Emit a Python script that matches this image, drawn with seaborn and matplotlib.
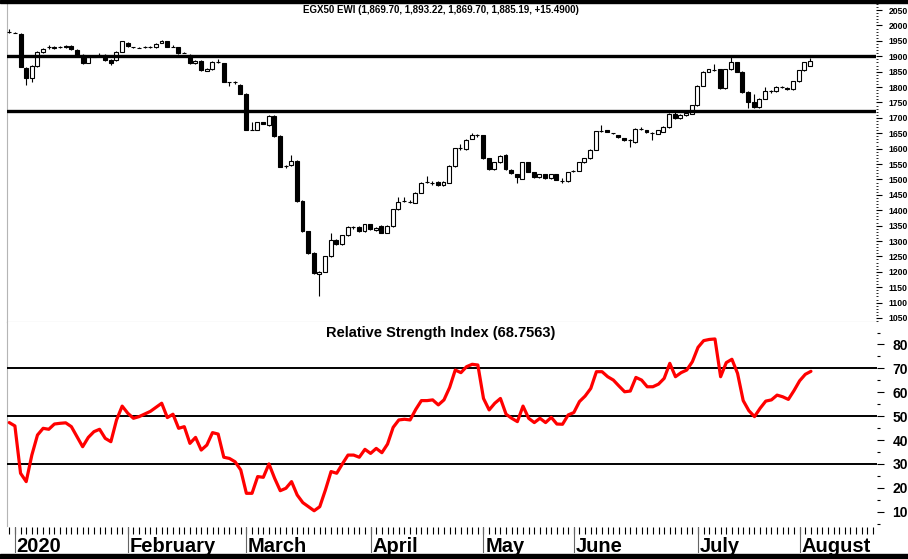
import matplotlib
matplotlib.use("Agg")
import matplotlib.pyplot as plt
import numpy as np
import pandas as pd
import seaborn as sns

# daily candles, index 0 = last session of 2019
opens = [1979, 1977, 1973, 1863, 1828, 1869, 1914, 1929, 1926, 1931,
         1932, 1933, 1920, 1904, 1879, 1899, 1904, 1904, 1888, 1888,
         1915, 1944, 1929, 1928, 1929, 1931, 1929, 1944, 1948, 1931,
         1929, 1911, 1904, 1877, 1886, 1853, 1858, 1882, 1877, 1815,
         1815, 1808, 1779, 1662, 1662, 1686, 1677, 1706, 1641, 1544,
         1547, 1561, 1430, 1332, 1261, 1194, 1201, 1250, 1303, 1289,
         1319, 1346, 1346, 1332, 1354, 1336, 1349, 1327, 1349, 1403,
         1430, 1427, 1425, 1457, 1492, 1490, 1492, 1481, 1490, 1544,
         1601, 1598, 1632, 1643, 1643, 1569, 1534, 1556, 1579, 1531,
         1517, 1503, 1556, 1523, 1507, 1517, 1504, 1517, 1495, 1495,
         1527, 1528, 1556, 1569, 1597, 1656, 1660, 1650, 1643, 1634,
         1627, 1621, 1664, 1660, 1651, 1649, 1655, 1670, 1713, 1699,
         1709, 1714, 1741, 1804, 1850, 1855, 1858, 1797, 1858, 1880,
         1850, 1784, 1752, 1735, 1762, 1786, 1786, 1801, 1798, 1793,
         1819, 1855, 1869.70]
highs = [1990, 1980, 1975, 1866, 1872, 1918, 1928, 1935, 1933, 1934,
         1935, 1936, 1922, 1906, 1901, 1903, 1910, 1906, 1890, 1917,
         1950, 1946, 1931, 1930, 1932, 1933, 1942, 1953, 1950, 1936,
         1931, 1914, 1906, 1888, 1888, 1862, 1884, 1890, 1879, 1818,
         1820, 1810, 1781, 1688, 1688, 1688, 1708, 1708, 1643, 1548,
         1580, 1563, 1432, 1334, 1263, 1203, 1252, 1327, 1305, 1321,
         1348, 1350, 1348, 1356, 1356, 1345, 1351, 1351, 1405, 1444,
         1444, 1432, 1459, 1492, 1510, 1495, 1494, 1494, 1546, 1603,
         1615, 1631, 1651, 1648, 1645, 1571, 1558, 1579, 1581, 1533,
         1519, 1558, 1558, 1525, 1519, 1519, 1519, 1519, 1505, 1525,
         1531, 1558, 1571, 1599, 1658, 1677, 1662, 1652, 1645, 1636,
         1630, 1666, 1669, 1662, 1653, 1662, 1672, 1715, 1722, 1711,
         1718, 1743, 1806, 1852, 1860, 1874, 1860, 1860, 1904, 1882,
         1852, 1786, 1776, 1764, 1800, 1790, 1803, 1805, 1800, 1821,
         1857, 1882, 1893.22]
lows = [1977, 1974, 1864, 1806, 1818, 1866, 1912, 1925, 1924, 1928,
        1927, 1920, 1902, 1876, 1877, 1897, 1902, 1886, 1871, 1885,
        1913, 1931, 1927, 1926, 1926, 1927, 1927, 1942, 1929, 1929,
        1907, 1909, 1875, 1875, 1853, 1851, 1856, 1878, 1815, 1805,
        1810, 1777, 1660, 1660, 1660, 1679, 1675, 1639, 1540, 1538,
        1545, 1428, 1330, 1259, 1194, 1120, 1199, 1248, 1287, 1287,
        1317, 1338, 1330, 1330, 1336, 1334, 1325, 1325, 1347, 1401,
        1428, 1422, 1423, 1455, 1490, 1482, 1479, 1479, 1488, 1542,
        1595, 1596, 1630, 1638, 1567, 1532, 1532, 1554, 1532, 1518,
        1490, 1501, 1523, 1505, 1505, 1502, 1502, 1497, 1490, 1493,
        1523, 1526, 1554, 1567, 1595, 1654, 1653, 1648, 1635, 1625,
        1605, 1619, 1659, 1651, 1627, 1647, 1653, 1668, 1697, 1697,
        1707, 1712, 1739, 1802, 1848, 1853, 1795, 1795, 1856, 1848,
        1782, 1732, 1733, 1733, 1760, 1782, 1784, 1797, 1791, 1791,
        1817, 1853, 1869.70]
closes = [1978, 1976, 1866, 1828, 1869, 1915, 1924, 1929, 1931, 1931,
          1929, 1922, 1904, 1879, 1899, 1901, 1904, 1888, 1879, 1915,
          1948, 1933, 1929, 1928, 1929, 1929, 1940, 1951, 1931, 1931,
          1909, 1911, 1877, 1886, 1855, 1860, 1882, 1882, 1817, 1815,
          1815, 1779, 1662, 1662, 1686, 1681, 1706, 1641, 1542, 1544,
          1560, 1430, 1332, 1261, 1196, 1201, 1250, 1303, 1289, 1319,
          1346, 1346, 1332, 1354, 1338, 1343, 1327, 1349, 1403, 1427,
          1430, 1427, 1457, 1490, 1492, 1490, 1481, 1492, 1544, 1601,
          1601, 1629, 1643, 1643, 1569, 1534, 1556, 1577, 1534, 1520,
          1507, 1556, 1525, 1507, 1517, 1504, 1517, 1499, 1495, 1523,
          1527, 1556, 1569, 1597, 1656, 1656, 1655, 1650, 1637, 1627,
          1627, 1664, 1664, 1653, 1651, 1660, 1670, 1713, 1699, 1709,
          1716, 1741, 1804, 1850, 1858, 1855, 1797, 1858, 1880, 1850,
          1784, 1752, 1735, 1762, 1786, 1786, 1801, 1801, 1793, 1819,
          1855, 1880, 1885.19]
rsi = [47.3, 45.9, 26.1, 22.6, 33.7, 42.1, 44.9, 44.5, 46.7, 47.0,
       47.2, 45.6, 41.4, 37.2, 41.1, 43.5, 44.5, 40.7, 39.3, 48.4,
       54.2, 51.2, 49.1, 49.8, 50.9, 52.0, 53.7, 55.4, 49.4, 50.8,
       44.9, 45.6, 38.6, 41.1, 35.8, 37.9, 43.1, 42.5, 32.8, 32.3,
       30.9, 27.5, 17.7, 17.7, 24.7, 24.4, 30.0, 24.0, 18.8, 19.8,
       22.6, 17.0, 13.8, 12.1, 10.4, 12.1, 19.1, 26.8, 26.1, 30.0,
       33.7, 33.7, 32.8, 36.1, 34.4, 36.5, 34.7, 38.3, 45.3, 48.4,
       48.7, 48.4, 52.8, 56.5, 56.5, 56.8, 54.7, 56.8, 62.0, 69.3,
       68.2, 70.7, 71.7, 71.4, 57.4, 52.6, 55.4, 57.4, 50.8, 49.1,
       47.7, 54.2, 49.1, 47.3, 49.1, 47.3, 49.5, 46.7, 46.6, 50.5,
       51.5, 56.1, 58.4, 61.6, 68.6, 68.6, 66.5, 65.1, 62.6, 60.2,
       60.5, 66.2, 65.1, 62.3, 62.3, 63.4, 65.8, 72.1, 66.5, 68.2,
       69.3, 72.8, 78.8, 81.6, 82.1, 82.3, 66.5, 72.4, 73.8, 67.9,
       56.5, 52.3, 49.8, 53.3, 56.3, 56.8, 58.8, 58.1, 57.0, 60.7,
       64.8, 67.5, 68.76]

month_names = ["2020", "February", "March", "April", "May", "June", "July", "August"]
month_starts = [1, 21, 42, 64, 84, 100, 122, 140]
axis_days = 154  # session slots shown on the date strip
price_levels = [1900, 1722]
rsi_levels = [70, 50, 30]
price_ticks = list(range(1050, 2051, 50))
rsi_ticks = list(range(10, 81, 10))
title = "EGX50 EWI (1,869.70, 1,893.22, 1,869.70, 1,885.19, +15.4900)"
rsi_title = "Relative Strength Index (68.7563)"

sns.set_style("white", {"text.color": "black", "xtick.color": "black",
                        "ytick.color": "black"})
plt.rcParams["font.family"] = ["Liberation Sans", "DejaVu Sans"]

W, H = 908, 559
fig = plt.figure(figsize=(W / 100, H / 100), dpi=100)


def box(l, t, r, b):
    return [l / W, 1 - b / H, (r - l) / W, (b - t) / H]


ax = fig.add_axes(box(7, 3, 876, 322))
ax2 = fig.add_axes(box(7, 322, 877, 527))
axd = fig.add_axes(box(7, 527, 877, 553))
xlim = (-0.4, 153.7)

df = pd.DataFrame({"day": np.arange(len(opens)), "open": opens, "high": highs,
                   "low": lows, "close": closes, "rsi": rsi})
up = df["close"] >= df["open"]

# candles
ax.vlines(df["day"], df["low"], df["high"], color="black", lw=0.8, zorder=2)
ax.bar(df["day"], df["close"] - df["open"], bottom=df["open"], width=0.7,
       color=np.where(up, "white", "black"), edgecolor="black", linewidth=0.8, zorder=3)
for lvl in price_levels:
    ax.axhline(lvl, color="black", lw=2.4, zorder=4)

ax.set_xlim(*xlim)
ax.set_ylim(1037, 2073)
ax.set_xticks([])
ax.yaxis.tick_right()
ax.set_yticks(price_ticks)
ax.set_yticks(np.arange(1040, 2071, 10), minor=True)
ax.tick_params(axis="y", which="major", right=True, left=False, length=4, width=0.8,
               pad=5, labelsize=6.2)
ax.tick_params(axis="y", which="minor", right=True, left=False, length=1.5, width=0.6)
for t in ax.get_yticklabels():
    t.set_fontweight("bold")
for s in ["top", "right"]:
    ax.spines[s].set_visible(False)
for s in ["left", "bottom"]:
    ax.spines[s].set_color("#b5b5b5")
    ax.spines[s].set_linewidth(0.8)

# RSI panel
sns.lineplot(data=df, x="day", y="rsi", ax=ax2, color="#ff0000", lw=2.3, zorder=4)
for lvl in rsi_levels:
    ax2.axhline(lvl, color="black", lw=1.4, zorder=3)
ax2.set_xlim(*xlim)
ax2.set_ylim(3.6, 89.4)
ax2.set_xticks([])
ax2.set_xlabel("")
ax2.set_ylabel("")
ax2.yaxis.tick_right()
ax2.set_yticks(rsi_ticks)
ax2.set_yticks(np.arange(5, 90, 5), minor=True)
ax2.tick_params(axis="y", which="major", right=True, left=False, length=5, width=0.8,
                pad=6, labelsize=10)
ax2.tick_params(axis="y", which="minor", right=True, left=False, length=2, width=0.8)
for t in ax2.get_yticklabels():
    t.set_fontweight("bold")
for s in ["top", "right", "bottom"]:
    ax2.spines[s].set_visible(False)
ax2.spines["left"].set_color("#b5b5b5")
ax2.spines["left"].set_linewidth(0.8)

# date strip
axd.set_xlim(*xlim)
axd.set_ylim(0, 1)
axd.set_xticks(np.arange(axis_days))
axd.set_yticks([])
axd.tick_params(axis="x", top=True, bottom=False, direction="in", length=5, width=0.8,
                labelbottom=False)
for s in axd.spines.values():
    s.set_visible(False)
for start, name in zip(month_starts, month_names):
    axd.axvline(start, color="#666666", lw=0.8)
    axd.text(start + 0.3, 0.04, name, fontsize=14.5, fontweight="bold",
             ha="left", va="baseline")

fig.text(441 / W, 1 - 10 / H, title, ha="center", va="center", fontsize=7,
         fontweight="bold")
fig.text(441 / W, 1 - 333 / H, rsi_title, ha="center", va="center", fontsize=10.5,
         fontweight="bold")

# heavy frame bands
fig.add_artist(plt.Rectangle((0, 1 - 3 / H), 1, 3 / H, transform=fig.transFigure,
                             color="black", zorder=5))
fig.add_artist(plt.Rectangle((0, 0), 1, 5 / H, transform=fig.transFigure,
                             color="black", zorder=5))

fig.savefig("out.png", dpi=100)
